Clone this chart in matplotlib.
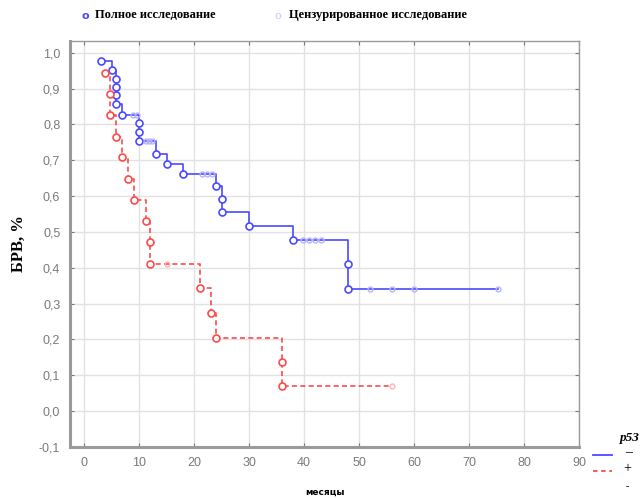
import matplotlib
matplotlib.use("Agg")
import matplotlib.pyplot as plt
import numpy as np

# p53 "-" group (blue): event times and survival after each event
blue_t = [3, 5, 5.8, 5.8, 5.8, 5.8, 6.8, 10, 10, 10, 13, 15, 18, 24, 25, 25, 30, 38, 48, 48]
blue_s = [0.976, 0.952, 0.928, 0.905, 0.881, 0.857, 0.826, 0.803, 0.779, 0.755,
          0.719, 0.691, 0.661, 0.628, 0.592, 0.556, 0.516, 0.478, 0.41, 0.342]
blue_cens_t = [8.8, 9.6, 11.2, 11.8, 12.4, 21.5, 22.4, 23.3, 39.8, 40.9, 42.0, 43.1, 52, 56, 60, 75.2]
blue_cens_s = [0.826, 0.826, 0.755, 0.755, 0.755, 0.661, 0.661, 0.661, 0.478, 0.478, 0.478, 0.478,
               0.342, 0.342, 0.342, 0.342]

# p53 "+" group (red)
red_t = [3.8, 4.7, 4.7, 5.8, 6.8, 8, 9, 11.2, 12, 12, 21, 23, 24, 36, 36]
red_s = [0.943, 0.885, 0.826, 0.766, 0.708, 0.649, 0.59, 0.53, 0.472, 0.412,
         0.344, 0.274, 0.205, 0.137, 0.069]
red_cens_t = [15, 56]
red_cens_s = [0.412, 0.069]

xticks = [0, 10, 20, 30, 40, 50, 60, 70, 80, 90]
yticks = [-0.1, 0.0, 0.1, 0.2, 0.3, 0.4, 0.5, 0.6, 0.7, 0.8, 0.9, 1.0]

blue = "#4a4aff"
red = "#ff4a4a"
grey = "#7a7a7a"

fig = plt.figure(figsize=(6.44, 4.98), dpi=100)
ax = fig.add_axes([70/644, 51/498, 509/644, 406/498])

# step lines (extend to last censored time)
bx = blue_t + [blue_cens_t[-1]]
by = blue_s + [blue_s[-1]]
ax.plot(bx, by, drawstyle="steps-post", color=blue, lw=1.2, zorder=3)
rx = red_t + [red_cens_t[-1]]
ry = red_s + [red_s[-1]]
ax.plot(rx, ry, drawstyle="steps-post", color=red, lw=1.2, ls=(0, (3, 2)), zorder=3)

# complete observations
ax.plot(blue_t, blue_s, "o", ms=5, mfc="white", mec=blue, mew=1.2, zorder=4)
ax.plot(red_t, red_s, "o", ms=5, mfc="white", mec=red, mew=1.2, zorder=4)
# censored observations
ax.plot(blue_cens_t, blue_cens_s, "o", ms=3.5, mfc="none", mec="#b4b4ff", mew=1, zorder=4)
ax.plot(red_cens_t, red_cens_s, "o", ms=3.5, mfc="none", mec="#ffb4b4", mew=1, zorder=4)

ax.set_xlim(-2.6, 90)
ax.set_ylim(-0.1, 1.033)
ax.set_xticks(xticks)
ax.set_yticks(yticks)
ax.set_xticklabels([str(v) for v in xticks])
ax.set_yticklabels([("%.1f" % v).replace(".", ",") for v in yticks])
ax.tick_params(colors=grey, labelsize=9, length=3, direction="in", pad=7,
               top=True, right=True)
for lab in ax.get_xticklabels() + ax.get_yticklabels():
    lab.set_family("Liberation Sans")
ax.grid(True, color="#e2e2e2", lw=1)
ax.set_axisbelow(True)
for side in ax.spines:
    ax.spines[side].set_color("#9a9a9a")
    ax.spines[side].set_linewidth(1.0)
ax.spines["left"].set_linewidth(2.2)
ax.spines["bottom"].set_linewidth(2.2)

ax.set_ylabel("БРВ, %", family="Liberation Serif", fontweight="bold", fontsize=12, labelpad=9)
ax.set_xlabel("месяцы", fontweight="bold", fontsize=6.5, labelpad=14)

# top legend
fig.text(85/644, 1 - 16/498, "o", color=blue, fontsize=8, fontweight="bold", ha="center", va="center")
fig.text(95/644, 1 - 15/498, "Полное исследование", family="Liberation Serif",
         fontweight="bold", fontsize=9, va="center")
fig.text(278/644, 1 - 16/498, "o", color="#c8c8ff", fontsize=8, ha="center", va="center")
fig.text(289/644, 1 - 15/498, "Цензурированное исследование", family="Liberation Serif",
         fontweight="bold", fontsize=9, va="center")

# p53 legend bottom right
fig.text(620/644, 1 - 438/498, "p53", family="Liberation Serif", fontweight="bold",
         fontstyle="italic", fontsize=9.5, va="center")
fig.add_artist(plt.Line2D([593/644, 612/644], [1 - 455/498, 1 - 455/498], color=blue, lw=1.3))
fig.add_artist(plt.Line2D([593/644, 612/644], [1 - 471/498, 1 - 471/498], color=red, lw=1.3,
                          ls=(0, (2.5, 2))))
fig.text(625/644, 1 - 453/498, "–", family="Liberation Serif", fontsize=10, va="center")
fig.text(623/644, 1 - 469/498, "+", family="Liberation Serif", fontsize=10, va="center")
fig.text(626/644, 1 - 487/498, "-", family="Liberation Serif", fontsize=7, va="center")

fig.savefig("out.png", dpi=100)
